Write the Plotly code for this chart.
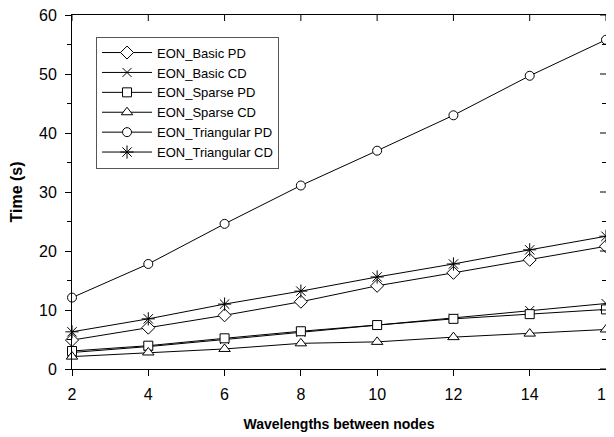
import plotly.graph_objects as go

wavelengths = [2, 4, 6, 8, 10, 12, 14, 16]
basic_pd = [4.9, 7.0, 9.1, 11.4, 14.1, 16.3, 18.5, 20.8]
basic_cd = [2.8, 3.8, 5.0, 6.2, 7.4, 8.6, 9.9, 11.1]
sparse_pd = [3.05, 3.95, 5.2, 6.4, 7.45, 8.5, 9.3, 10.1]
sparse_cd = [2.1, 2.8, 3.4, 4.35, 4.6, 5.4, 6.0, 6.7]
tri_pd = [12.1, 17.8, 24.6, 31.1, 37.0, 43.0, 49.7, 55.8]
tri_cd = [6.3, 8.5, 11.0, 13.2, 15.6, 17.8, 20.2, 22.5]
y_ticks = [0, 10, 20, 30, 40, 50, 60]
y_minor = [5, 15, 25, 35, 45, 55]

series = [
    ("EON_Basic PD", basic_pd, "diamond", 10),
    ("EON_Basic CD", basic_cd, "x-thin", 9),
    ("EON_Sparse PD", sparse_pd, "square", 9),
    ("EON_Sparse CD", sparse_cd, "triangle-up", 10),
    ("EON_Triangular PD", tri_pd, "circle", 9),
    ("EON_Triangular CD", tri_cd, "asterisk", 11),
]

fig = go.Figure()
for name, vals, sym, sz in series:
    fig.add_trace(go.Scatter(
        x=wavelengths, y=vals, name=name, mode="lines+markers",
        line=dict(color="black", width=1),
        marker=dict(symbol=sym, size=sz, color="white",
                    line=dict(color="black", width=1)),
        cliponaxis=False,
    ))

# inward mirror ticks on top and right frame edges
tick_line = dict(color="black", width=1)
for v in wavelengths:
    fig.add_shape(type="line", xref="x", yref="paper", ysizemode="pixel",
                  yanchor=1, x0=v, x1=v, y0=0, y1=-6, line=tick_line)
for v in y_ticks:
    fig.add_shape(type="line", yref="y", xref="paper", xsizemode="pixel",
                  xanchor=1, y0=v, y1=v, x0=0, x1=-6, line=tick_line)
for v in y_minor:
    fig.add_shape(type="line", yref="y", xref="paper", xsizemode="pixel",
                  xanchor=1, y0=v, y1=v, x0=0, x1=-4, line=tick_line)

font = dict(family="Liberation Sans, Arial, sans-serif", color="black")

fig.update_layout(
    width=606, height=429,
    margin=dict(l=64, r=8, t=7, b=68),
    paper_bgcolor="white", plot_bgcolor="white",
    font=dict(**font, size=16),
    showlegend=True,
    legend=dict(
        x=0.045, y=0.939, xanchor="left", yanchor="top",
        bgcolor="white", bordercolor="#555555", borderwidth=1,
        font=dict(**font, size=13),
        tracegroupgap=0, itemwidth=50,
    ),
    xaxis=dict(
        range=[2, 16], tickvals=wavelengths, ticks="outside", ticklen=6,
        tickcolor="black", showline=True, linecolor="black", linewidth=1,
        mirror=True, showgrid=False, zeroline=False, automargin=False,
        ticklabeloverflow="allow", ticklabelstandoff=5,
        tickfont=dict(**font, size=16),
        title=dict(text="<b>Wavelengths between nodes</b>",
                   font=dict(**font, size=14), standoff=16),
    ),
    yaxis=dict(
        range=[0, 60], tickvals=y_ticks, ticks="outside",
        ticklen=6, tickcolor="black", showline=True, linecolor="black",
        linewidth=1, mirror=True, showgrid=False, zeroline=False,
        automargin=False, ticklabeloverflow="allow", ticklabelstandoff=5,
        minor=dict(tickvals=y_minor, ticks="outside",
                   ticklen=4, tickcolor="black", showgrid=False),
        tickfont=dict(**font, size=16),
        title=dict(text="<b>Time (s)</b>", font=dict(**font, size=16),
                   standoff=12),
    ),
)

fig.write_html("out.html")
